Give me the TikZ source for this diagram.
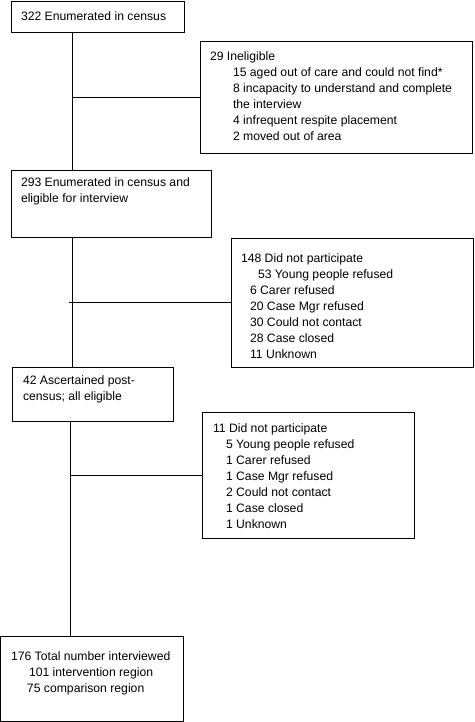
\documentclass[tikz,border=0pt]{standalone}
\usepackage{fontspec}
\setmainfont{Liberation Sans}
\begin{document}
\begin{tikzpicture}[x=1pt,y=-1pt,
  box/.style={draw, line width=0.9pt, inner sep=0pt, outer sep=0pt, anchor=north west},
  txt/.style={inner sep=0pt, outer sep=0pt, anchor=base west, font=\fontsize{12.2}{16}\selectfont},
  link/.style={line width=0.9pt}]
\useasboundingbox (0,0) rectangle (474,722);
% boxes
\node[box, minimum width=173pt, minimum height=31pt] (b1) at (11,1) {};
\node[box, minimum width=272.5pt, minimum height=112pt] (b29) at (200,41) {};
\node[box, minimum width=200pt, minimum height=67pt] (b293) at (11,170) {};
\node[box, minimum width=242pt, minimum height=129pt] (b148) at (231,238) {};
\node[box, minimum width=161pt, minimum height=54pt] (b42) at (12,367) {};
\node[box, minimum width=212pt, minimum height=126pt] (b11) at (202,412) {};
\node[box, minimum width=182.5pt, minimum height=85.5pt] (b176) at (0.5,636) {};
% texts
\node[txt] (t1) at (21,21) {322 Enumerated in census};
\node[txt] (t29) at (210,61) {\begin{tabular}[t]{@{}l@{}}29 Ineligible\\
\hspace*{23pt}15 aged out of care and could not find*\\
\hspace*{23pt}8 incapacity to understand and complete\\
\hspace*{23pt}the interview\\
\hspace*{23pt}4 infrequent respite placement\\
\hspace*{23pt}2 moved out of area\end{tabular}};
\node[txt] (t293) at (21,186) {\begin{tabular}[t]{@{}l@{}}293 Enumerated in census and\\
eligible for interview\end{tabular}};
\node[txt] (t148) at (241,262) {\begin{tabular}[t]{@{}l@{}}148 Did not participate\\
\hspace*{17pt}53 Young people refused\\
\hspace*{9pt}6 Carer refused\\
\hspace*{9pt}20 Case Mgr refused\\
\hspace*{9pt}30 Could not contact\\
\hspace*{9pt}28 Case closed\\
\hspace*{9pt}11 Unknown\end{tabular}};
\node[txt] (t42) at (23,384) {\begin{tabular}[t]{@{}l@{}}42 Ascertained post-\\
census; all eligible\end{tabular}};
\node[txt] (t11) at (213,432) {\begin{tabular}[t]{@{}l@{}}11 Did not participate\\
\hspace*{13pt}5 Young people refused\\
\hspace*{13pt}1 Carer refused\\
\hspace*{13pt}1 Case Mgr refused\\
\hspace*{13pt}2 Could not contact\\
\hspace*{13pt}1 Case closed\\
\hspace*{13pt}1 Unknown\end{tabular}};
\node[txt] (t176) at (11,660) {\begin{tabular}[t]{@{}l@{}}176 Total number interviewed\\
\hspace*{18pt}101 intervention region\\
\hspace*{16pt}75 comparison region\end{tabular}};
% connectors
\coordinate (s1) at (72,0);
\coordinate (s3) at (70,0);
\draw[link] (b1.south -| s1) -- (b293.north -| s1);
\draw[link] (b29.west -| s1) -- (b29.west);
\draw[link] (b293.south -| s1) -- (b42.north -| s1);
\draw[link] ([xshift=-3pt]b148.west -| s1) -- (b148.west);
\draw[link] (b42.south -| s3) -- (b176.north -| s3);
\draw[link] (b11.west -| s3) -- (b11.west);
\end{tikzpicture}
\end{document}
